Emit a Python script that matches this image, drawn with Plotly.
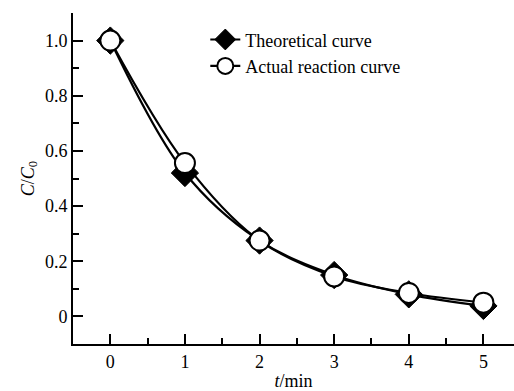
import plotly.graph_objects as go

t_min = [0, 1, 2, 3, 4, 5]
theoretical = [1.0, 0.52, 0.275, 0.15, 0.08, 0.038]
actual = [1.0, 0.556, 0.275, 0.145, 0.085, 0.05]
x_ticks = [0, 1, 2, 3, 4, 5]
y_ticks = [0, 0.2, 0.4, 0.6, 0.8, 1.0]
y_labels = ["0", "0.2", "0.4", "0.6", "0.8", "1.0"]

font = "Liberation Serif, Times New Roman, serif"

fig = go.Figure()
fig.add_trace(go.Scatter(
    x=t_min, y=theoretical, name="Theoretical curve",
    mode="lines+markers", line=dict(color="black", width=2.2, shape="spline"),
    marker=dict(symbol="diamond", size=21, color="black", line=dict(color="black", width=1)),
))
fig.add_trace(go.Scatter(
    x=t_min, y=actual, name="Actual reaction curve",
    mode="lines+markers", line=dict(color="black", width=2.2, shape="spline"),
    marker=dict(symbol="circle", size=20, color="white", line=dict(color="black", width=2)),
))

fig.update_layout(
    template="none",
    width=514, height=391,
    margin=dict(l=73, r=0, t=13, b=47),
    paper_bgcolor="white", plot_bgcolor="white",
    font=dict(family=font, size=18, color="#000000"),
    showlegend=True,
    legend=dict(x=0.30, y=0.975, xanchor="left", yanchor="top",
                bgcolor="rgba(0,0,0,0)", font=dict(size=18, family=font, color="#000000"),
                tracegroupgap=0),
    xaxis=dict(
        range=[-0.5, 5.41], tickvals=x_ticks, ticks="inside", ticklen=10, tickwidth=2,
        tickcolor="black", showline=True, linecolor="black", linewidth=2,
        showgrid=False, zeroline=False,
        minor=dict(dtick=0.5, ticks="inside", ticklen=6, tickwidth=2, tickcolor="black", showgrid=False),
        title=dict(text="<i>t</i>/min", standoff=4, font=dict(size=18, family=font, color="#000000")),
        tickfont=dict(size=18, family=font, color="#000000"),
    ),
    yaxis=dict(
        range=[-0.1, 1.1], tickvals=y_ticks, ticktext=y_labels, ticks="inside", ticklen=10, tickwidth=2,
        tickcolor="black", showline=True, linecolor="black", linewidth=2,
        showgrid=False, zeroline=False,
        minor=dict(dtick=0.1, ticks="inside", ticklen=6, tickwidth=2, tickcolor="black", showgrid=False),
        title=dict(text="<i>C</i>/<i>C</i><sub>0</sub>", standoff=6, font=dict(size=18, family=font, color="#000000")),
        tickfont=dict(size=18, family=font, color="#000000"),
    ),
)

fig.write_html("out.html")
